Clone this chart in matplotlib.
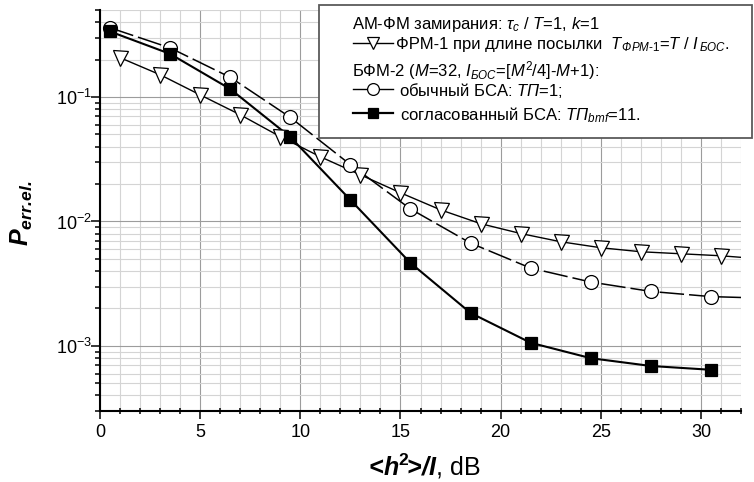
import matplotlib
matplotlib.use('Agg')
import matplotlib.pyplot as plt
import numpy as np
from matplotlib.ticker import MultipleLocator, LogLocator, NullFormatter
from matplotlib.lines import Line2D
from matplotlib.patches import Rectangle

plt.rcParams['font.family'] = ['Liberation Sans', 'DejaVu Sans']
plt.rcParams['mathtext.fontset'] = 'custom'
plt.rcParams['mathtext.rm'] = 'Liberation Sans'
plt.rcParams['mathtext.it'] = 'Liberation Sans:italic'
plt.rcParams['mathtext.bf'] = 'Liberation Sans:bold'
plt.rcParams['mathtext.bfit'] = 'Liberation Sans:italic:bold'
plt.rcParams['mathtext.sf'] = 'Liberation Sans'

# ---- data ----
x_frm = [1, 3, 5, 7, 9, 11, 13, 15, 17, 19, 21, 23, 25, 27, 29, 31]
p_frm = [0.207, 0.151, 0.104, 0.072, 0.048, 0.0331, 0.0237, 0.0170, 0.0124,
         0.0096, 0.0080, 0.00687, 0.00615, 0.00571, 0.00550, 0.00530]
x_frm_end, p_frm_end = 32, 0.00515

x_bsa = [0.5, 3.5, 6.5, 9.5, 12.5, 15.5, 18.5, 21.5, 24.5, 27.5, 30.5]
p_bsa = [0.360, 0.248, 0.144, 0.0686, 0.0286, 0.0126, 0.0067, 0.00422,
         0.00326, 0.00274, 0.00249]
x_bsa_end, p_bsa_end = 32, 0.00245

x_bmf = [0.5, 3.5, 6.5, 9.5, 12.5, 15.5, 18.5, 21.5, 24.5, 27.5, 30.5]
p_bmf = [0.336, 0.222, 0.116, 0.0477, 0.0149, 0.00464, 0.00184, 0.00106,
         0.000797, 0.00069, 0.000643]

xticks = [0, 5, 10, 15, 20, 25, 30]

W, H = 754, 482
fig = plt.figure(figsize=(W / 100, H / 100), dpi=100)

def fx(px):
    return px / W

def fy(py):
    return 1 - py / H

ax = fig.add_axes([fx(100), fy(411), (741 - 100) / W, (411 - 10) / H])
ax.set_yscale('log')
ax.set_xlim(0, 32)
ax.set_ylim(3e-4, 0.5)

ax.set_axisbelow(True)
ax.grid(which='major', color='#9c9c9c', lw=0.8)
ax.grid(which='minor', color='#d4d4d4', lw=0.8)

ax.xaxis.set_major_locator(MultipleLocator(5))
ax.xaxis.set_minor_locator(MultipleLocator(1))
ax.set_xticks(xticks)
ax.yaxis.set_major_locator(LogLocator(base=10, subs=(1.0,)))
ax.yaxis.set_minor_locator(LogLocator(base=10, subs=np.arange(2, 10)))
ax.yaxis.set_minor_formatter(NullFormatter())

for s in ['top', 'right']:
    ax.spines[s].set_visible(False)
for s in ['left', 'bottom']:
    ax.spines[s].set_linewidth(1.5)

ax.tick_params(axis='x', which='major', direction='out', length=5.5, width=1.1,
               labelsize=13, pad=4)
ax.tick_params(axis='x', which='minor', direction='inout', length=3.8, width=1.1)
ax.tick_params(axis='y', which='major', direction='out', length=6.5, width=1.1,
               labelsize=13, pad=-1)
ax.tick_params(axis='y', which='minor', direction='out', length=3.6, width=1.1)

# series
ax.plot(x_frm + [x_frm_end], p_frm + [p_frm_end], color='k', lw=1.0, zorder=3)
ax.plot(x_frm, p_frm, ls='none', marker='v', ms=10.8, mfc='white', mec='k',
        mew=0.9, zorder=4)

l_bsa, = ax.plot(x_bsa + [x_bsa_end], p_bsa + [p_bsa_end], color='k', lw=1.1,
                 zorder=3)
l_bsa.set_dashes((16, 3.3))
ax.plot(x_bsa, p_bsa, ls='none', marker='o', ms=10, mfc='white', mec='k',
        mew=0.9, zorder=5)

ax.plot(x_bmf, p_bmf, color='k', lw=1.5, zorder=3)
ax.plot(x_bmf, p_bmf, ls='none', marker='s', ms=9, mfc='black', mec='k',
        mew=0.9, zorder=6)

# axis labels
fig.text(fx(422), fy(466),
         r"$\mathbfit{<}\!\mathbfit{h}^{\mathbf{2}}\!\!\mathbfit{>}\!\mathbfit{/I}$, dB",
         ha='center', va='center', fontsize=18)
fig.text(fx(22), fy(213), r"$\mathbfit{P}_{\mathbfit{err.\!el.}}$",
         rotation=90, ha='center', va='center', fontsize=18)

# legend box
fig.patches.append(Rectangle((fx(319), fy(138)), (752 - 319) / W, (138 - 5) / H,
                             transform=fig.transFigure, facecolor='white',
                             edgecolor='#5a5a5a', lw=1.3, zorder=10))

fs = 12
tx = fx(352)
fig.text(tx, fy(29.5), r"АМ-ФМ замирания: $\tau_c$ / $T$=1, $k$=1",
         fontsize=fs, va='baseline', zorder=11)
fig.text(fx(396), fy(49.5), r"ФРМ-1 при длине посылки",
         fontsize=fs, va='baseline', zorder=11)
fig.text(fx(610), fy(49.5), r"$T_{\,ФРМ\text{-}1}$=$T$ / $I_{\,БОС}$.",
         fontsize=fs, va='baseline', zorder=11)
fig.text(tx, fy(76), r"БФМ-2 ($M$=32, $I_{БОС}$=[$M^2$/4]-$M$+1):",
         fontsize=fs, va='baseline', zorder=11)
fig.text(fx(399), fy(95.7), r"обычный БСА: $TП$=1;",
         fontsize=fs, va='baseline', zorder=11)
fig.text(fx(400), fy(120.7), r"согласованный БСА: $TП_{bmf}$=11.",
         fontsize=fs, va='baseline', zorder=11)

def sample(yc, marker, ms, mfc, lw):
    fig.add_artist(Line2D([fx(353), fx(393)], [fy(yc), fy(yc)], color='k', lw=lw,
                          transform=fig.transFigure, zorder=11))
    fig.add_artist(Line2D([fx(373)], [fy(yc)], ls='none', marker=marker, ms=ms,
                          mfc=mfc, mec='k', mew=0.9, transform=fig.transFigure,
                          zorder=12))

sample(42.7, 'v', 9, 'white', 1.0)
sample(89.0, 'o', 8.5, 'white', 1.0)
sample(113.3, 's', 6.5, 'black', 1.6)

fig.savefig('out.png', dpi=100)
